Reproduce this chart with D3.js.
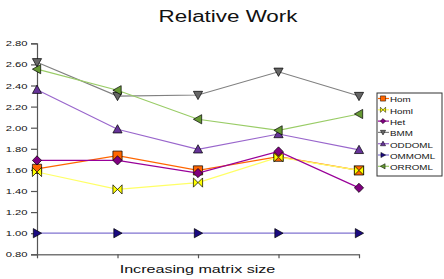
<!DOCTYPE html>
<html>
<head>
<meta charset="utf-8">
<script src="https://cdn.jsdelivr.net/npm/d3@7"></script>
<style>
  html, body { margin: 0; padding: 0; background: #fff; }
  svg { display: block; font-family: "Liberation Sans", Arial, sans-serif; }
</style>
</head>
<body>
<div id="chart"></div>
<script>
// Relative work per matrix-size step, one row per method.
const categories = ["1", "2", "3", "4", "5"];
const seriesNames = ["Hom", "Homl", "Het", "BMM", "ODDOML", "OMMOML", "ORROML"];
const hom    = [1.61, 1.735, 1.595, 1.725, 1.595];
const homl   = [1.58, 1.415, 1.48, 1.72, 1.595];
const het    = [1.69, 1.69, 1.57, 1.775, 1.43];
const bmm    = [2.62, 2.30, 2.31, 2.53, 2.30];
const oddoml = [2.36, 1.985, 1.795, 1.94, 1.79];
const ommoml = [1.00, 1.00, 1.00, 1.00, 1.00];
const orroml = [2.555, 2.355, 2.08, 1.975, 2.13];
const yTicks = [0.8, 1.0, 1.2, 1.4, 1.6, 1.8, 2.0, 2.2, 2.4, 2.6, 2.8];

const SERIES = [
  { name: "Hom",    values: hom,    line: "#ff6600", fill: "#ff6600", shape: "square" },
  { name: "Homl",   values: homl,   line: "#ffff66", fill: "#ffff00", shape: "bowtie" },
  { name: "Het",    values: het,    line: "#990099", fill: "#800080", shape: "diamond" },
  { name: "BMM",    values: bmm,    line: "#808080", fill: "#666666", shape: "down" },
  { name: "ODDOML", values: oddoml, line: "#9966cc", fill: "#663399", shape: "up" },
  { name: "OMMOML", values: ommoml, line: "#8073d0", fill: "#1a0a80", shape: "right" },
  { name: "ORROML", values: orroml, line: "#99cc66", fill: "#669933", shape: "left" },
];

const W = 444, H = 279;
const SX = 1.4; // the original's text is horizontally stretched

function shapePath(shape, s) {
  if (shape === "square") return `M${-s},${-s}H${s}V${s}H${-s}Z`;
  if (shape === "diamond") return `M0,${-s}L${s},0L0,${s}L${-s},0Z`;
  if (shape === "up") return `M0,${-s}L${s},${s * 0.8}L${-s},${s * 0.8}Z`;
  if (shape === "down") return `M0,${s}L${s},${-s * 0.8}L${-s},${-s * 0.8}Z`;
  if (shape === "right") return `M${s},0L${-s * 0.8},${-s}L${-s * 0.8},${s}Z`;
  if (shape === "left") return `M${-s},0L${s * 0.8},${-s}L${s * 0.8},${s}Z`;
  // bowtie: vertical edges left and right, meeting in the middle
  return `M${-s},${-s}L0,0L${s},${-s}V${s}L0,0L${-s},${s}Z`;
}

const svg = d3.select("#chart").append("svg")
  .attr("width", W).attr("height", H);

const x = d3.scalePoint().domain(categories).range([37, 359]);
const y = d3.scaleLinear().domain([0.8, 2.8]).range([254.3, 43.3]);

function stretchedText(g, tx, ty, anchor) {
  return g.append("text")
    .attr("transform", `translate(${tx},${ty}) scale(${SX},1)`)
    .attr("text-anchor", anchor);
}

// title + axis label
stretchedText(svg, 228, 21.5, "middle")
  .attr("font-size", 16).attr("fill", "#111").text("Relative Work");
stretchedText(svg, 197.5, 273, "middle")
  .attr("font-size", 11.5).attr("fill", "#111").text("Increasing matrix size");

// y axis
const yAxis = svg.append("g").attr("transform", "translate(37,0)")
  .call(d3.axisLeft(y).tickValues(yTicks).tickSize(6).tickFormat(() => ""));
yAxis.select(".domain").attr("stroke", "#555").attr("stroke-width", 1.2);
yAxis.selectAll(".tick line").attr("stroke", "#555").attr("stroke-width", 1.2);
yTicks.forEach((t) => {
  stretchedText(svg, 27.5, y(t) + 3, "end")
    .attr("font-size", 8).attr("fill", "#111").text(d3.format(".2f")(t));
});

// x axis
const xAxis = svg.append("g").attr("transform", `translate(0,${y(0.8)})`)
  .call(d3.axisBottom(x).tickSize(4).tickSizeOuter(0).tickFormat(() => ""));
xAxis.select(".domain").attr("stroke", "#777").attr("stroke-width", 1.5);
xAxis.selectAll(".tick line").attr("stroke", "#555").attr("stroke-width", 1.2);

// series lines + markers
const line = d3.line().x((d, i) => x(categories[i])).y((d) => y(d));
SERIES.forEach((s) => {
  const g = svg.append("g").attr("class", "series");
  g.append("path")
    .attr("d", line(s.values))
    .attr("fill", "none")
    .attr("stroke", s.line)
    .attr("stroke-width", 1.2);
  g.selectAll("path.marker")
    .data(s.values)
    .join("path")
    .attr("class", "marker")
    .attr("transform", (d, i) => `translate(${x(categories[i])},${y(d)})`)
    .attr("d", shapePath(s.shape, 4.6))
    .attr("fill", s.fill)
    .attr("stroke", "#000")
    .attr("stroke-width", 0.7);
});

// legend
const legend = svg.append("g");
legend.append("rect")
  .attr("x", 377).attr("y", 93).attr("width", 65).attr("height", 83)
  .attr("fill", "#fff").attr("stroke", "#333").attr("stroke-width", 1);
SERIES.forEach((s, i) => {
  const cy = 98.5 + i * 11.3;
  legend.append("line")
    .attr("x1", 378).attr("x2", 389).attr("y1", cy).attr("y2", cy)
    .attr("stroke", s.line).attr("stroke-width", 1.2);
  legend.append("path")
    .attr("transform", `translate(383,${cy})`)
    .attr("d", shapePath(s.shape, 2.6))
    .attr("fill", s.fill).attr("stroke", "#000").attr("stroke-width", 0.5);
  stretchedText(legend, 390, cy + 3.8, "start")
    .attr("font-size", 7).attr("fill", "#111").text(seriesNames[i]);
});
</script>
</body>
</html>
